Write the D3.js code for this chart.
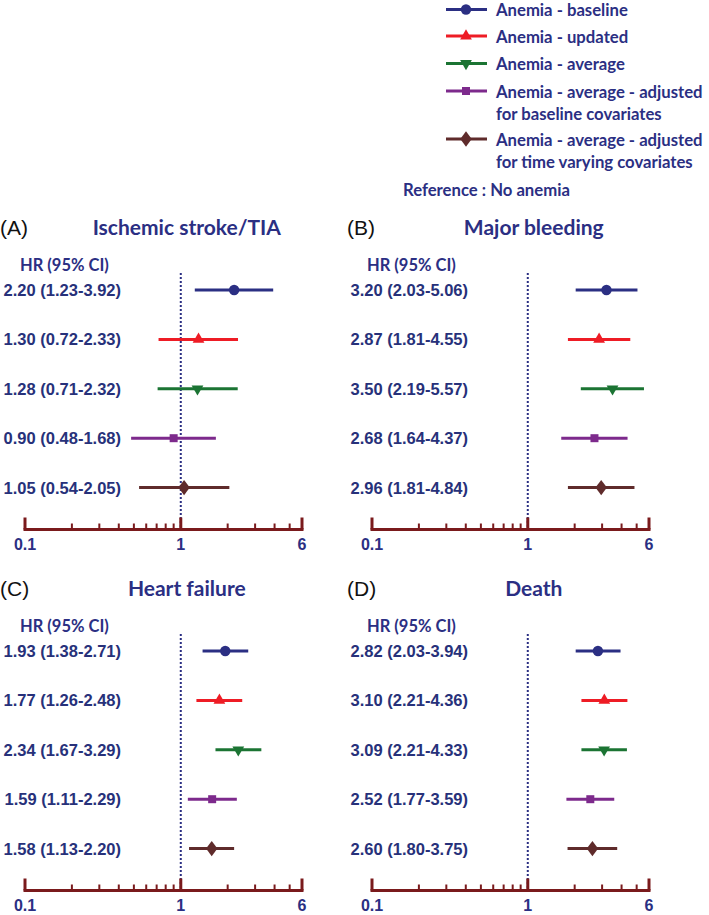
<!DOCTYPE html>
<html><head><meta charset="utf-8">
<script src="https://cdn.jsdelivr.net/npm/d3@7"></script>
<style>body{margin:0;background:#fff}svg{display:block}</style>
</head><body>
<script>
// ---- data ----
const panelTitles = ["Ischemic stroke/TIA", "Major bleeding", "Heart failure", "Death"];
const panelLetters = ["(A)", "(B)", "(C)", "(D)"];
const seriesNames = ["Anemia - baseline", "Anemia - updated", "Anemia - average",
  "Anemia - average - adjusted|for baseline covariates",
  "Anemia - average - adjusted|for time varying covariates"];
const seriesColors = ["#2b2f83", "#ee1c25", "#1b7433", "#7d2a8c", "#5f2b2b"];
const seriesSymbols = ["circle", "triangle", "triangleDown", "square", "diamond"];
const hrStroke = [2.20, 1.30, 1.28, 0.90, 1.05];
const loStroke = [1.23, 0.72, 0.71, 0.48, 0.54];
const hiStroke = [3.92, 2.33, 2.32, 1.68, 2.05];
const hrBleed = [3.20, 2.87, 3.50, 2.68, 2.96];
const loBleed = [2.03, 1.81, 2.19, 1.64, 1.81];
const hiBleed = [5.06, 4.55, 5.57, 4.37, 4.84];
const hrHF = [1.93, 1.77, 2.34, 1.59, 1.58];
const loHF = [1.38, 1.26, 1.67, 1.11, 1.13];
const hiHF = [2.71, 2.48, 3.29, 2.29, 2.20];
const hrDeath = [2.82, 3.10, 3.09, 2.52, 2.60];
const loDeath = [2.03, 2.21, 2.21, 1.77, 1.80];
const hiDeath = [3.94, 4.36, 4.33, 3.59, 3.75];
const majorTicks = [0.1, 1, 6];
const minorTicks = [0.2, 0.3, 0.4, 0.5, 0.6, 0.7, 0.8, 0.9, 2, 3, 4, 5];
const referenceText = "Reference : No anemia";
const hrHeader = "HR (95% CI)";

const panelData = [
  {hr: hrStroke, lo: loStroke, hi: hiStroke},
  {hr: hrBleed, lo: loBleed, hi: hiBleed},
  {hr: hrHF, lo: loHF, hi: hiHF},
  {hr: hrDeath, lo: loDeath, hi: hiDeath}
];

// ---- drawing ----
const W = 709, H = 915;
const navy = "#2b2f83", axisCol = "#7a1a1c", labelCol = "#27317a";
const svg = d3.select("body").append("svg").attr("width", W).attr("height", H);

const symType = {
  circle: d3.symbolCircle, triangle: d3.symbolTriangle, triangleDown: d3.symbolTriangle,
  square: d3.symbolSquare, diamond: d3.symbolDiamond
};
const symSize = {circle: 85, triangle: 60, triangleDown: 60, square: 64, diamond: 85};
function marker(g, type, x, y, color, scale) {
  const s = d3.symbol().type(symType[type]).size(symSize[type] * (scale || 1));
  g.append("path").attr("d", s())
    .attr("transform", `translate(${x},${y})` + (type === "triangleDown" ? " rotate(180)" : "") + (type === "diamond" ? " scale(1.15,0.9)" : ""))
    .attr("fill", color);
}

// legend
const leg = svg.append("g");
const legY = [9.5, 36, 63.5, 91, 139];
seriesNames.forEach((name, i) => {
  leg.append("line").attr("x1", 446).attr("x2", 487).attr("y1", legY[i]).attr("y2", legY[i])
    .attr("stroke", seriesColors[i]).attr("stroke-width", 3);
  marker(leg, seriesSymbols[i], 466, legY[i], seriesColors[i]);
  name.split("|").forEach((ln, j) => {
    leg.append("text").attr("x", 496).attr("y", legY[i] + j * 22.5 + 6.5)
      .attr("font-family", "Lato").attr("font-weight", 700).attr("font-size", 16.7)
      .attr("fill", navy).text(ln);
  });
});
leg.append("text").attr("x", 403).attr("y", 196)
  .attr("font-family", "Lato").attr("font-weight", 700).attr("font-size", 16.7)
  .attr("fill", navy).text(referenceText);

// panels
const offsets = [[0, 0], [347, 0], [0, 361], [347, 361]];
const rowY0 = 290, rowStep = 49.4;
panelTitles.forEach((title, p) => {
  const [ox, oy] = offsets[p];
  const g = svg.append("g").attr("transform", `translate(${ox},${oy})`);
  const x = d3.scaleLog().domain([0.1, 6]).range([25, 302]);
  const d = panelData[p];

  g.append("text").attr("x", 0).attr("y", 235)
    .attr("font-family", "Liberation Sans, Arial").attr("font-size", 21).attr("fill", "#111")
    .text(panelLetters[p]);
  g.append("text").attr("x", x(1) + 6).attr("y", 235).attr("text-anchor", "middle")
    .attr("font-family", "Lato").attr("font-weight", 700).attr("font-size", 21)
    .attr("fill", navy).text(title);
  g.append("text").attr("x", 20).attr("y", 271)
    .attr("font-family", "Lato").attr("font-weight", 700).attr("font-size", 16.5)
    .attr("fill", navy).text(hrHeader);

  // reference line
  g.append("line").attr("x1", x(1)).attr("x2", x(1)).attr("y1", 273).attr("y2", 528)
    .attr("stroke", navy).attr("stroke-width", 2).attr("stroke-dasharray", "2,2");

  // axis
  const axY = 529.5;
  g.append("line").attr("x1", x(0.1) - 1.5).attr("x2", x(6) + 1.5).attr("y1", axY).attr("y2", axY)
    .attr("stroke", axisCol).attr("stroke-width", 3);
  majorTicks.forEach(t => {
    g.append("line").attr("x1", x(t)).attr("x2", x(t)).attr("y1", axY - 12).attr("y2", axY)
      .attr("stroke", axisCol).attr("stroke-width", 3);
    g.append("text").attr("x", x(t)).attr("y", axY + 20).attr("text-anchor", "middle")
      .attr("font-family", "Liberation Sans, Arial").attr("font-weight", 700).attr("font-size", 16)
      .attr("fill", navy).text(d3.format("")(t));
  });
  minorTicks.forEach(t => {
    g.append("line").attr("x1", x(t)).attr("x2", x(t)).attr("y1", axY - 6).attr("y2", axY)
      .attr("stroke", axisCol).attr("stroke-width", 2);
  });

  d.hr.forEach((v, i) => {
    const y = rowY0 + i * rowStep;
    g.append("text").attr("x", 121).attr("y", y + 6).attr("text-anchor", "end")
      .attr("font-family", "Liberation Sans, Arial").attr("font-weight", 700).attr("font-size", 16.5)
      .attr("fill", labelCol)
      .text(`${v.toFixed(2)} (${d.lo[i].toFixed(2)}-${d.hi[i].toFixed(2)})`);
    g.append("line").attr("x1", x(d.lo[i])).attr("x2", x(d.hi[i])).attr("y1", y).attr("y2", y)
      .attr("stroke", seriesColors[i]).attr("stroke-width", 3);
    marker(g, seriesSymbols[i], x(v), y, seriesColors[i]);
  });
});
</script>
</body></html>
